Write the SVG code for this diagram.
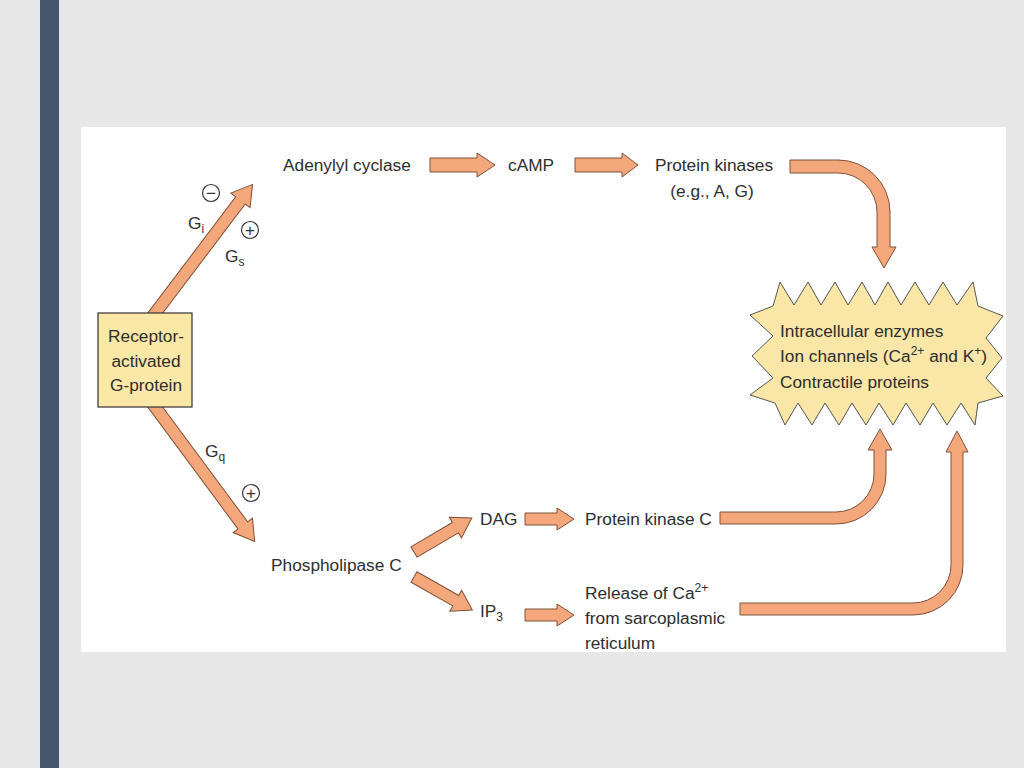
<svg xmlns="http://www.w3.org/2000/svg" width="1024" height="768" viewBox="0 0 1024 768">
<style>
.t{font-family:"Liberation Sans",Arial,sans-serif;font-size:17.3px;fill:#2e2e2e}
.sub{font-size:12px}
.arr{fill:#f5a77c;stroke:#7f5038;stroke-width:1}
.sign{fill:none;stroke:#333;stroke-width:1.2}
.signt{font-family:"Liberation Sans",Arial,sans-serif;font-size:17px;fill:#333;text-anchor:middle}
</style>
<rect width="1024" height="768" fill="#e7e7e7"/>
<rect x="40" y="0" width="19" height="768" fill="#47586e"/>
<rect x="81" y="127" width="925" height="525" fill="#ffffff"/>

<g id="connectors">
  <path class="arr" transform="translate(150,320) rotate(-52.9)" d="M0,-6 H150 V-12 L170,0 L150,12 V6 H0 Z"/>
  <path class="arr" transform="translate(150,400) rotate(53.5)" d="M0,-6 H156 V-12 L176,0 L156,12 V6 H0 Z"/>
  <path class="arr" d="M430,158 H477 V153 L495,165 L477,177 V172 H430 Z"/>
  <path class="arr" d="M575,158 H622 V153 L638,165 L622,177 V172 H575 Z"/>
  <path class="arr" d="M790,160 H838 A52,52 0 0 1 890,212 V247 H896 L884,268 L872,247 H877 V212 A39,39 0 0 0 838,173 H790 Z"/>
  <path class="arr" transform="translate(414,552) rotate(-30.4)" d="M0,-6 H48 V-12 L67,0 L48,12 V6 H0 Z"/>
  <path class="arr" transform="translate(414,577) rotate(29.6)" d="M0,-6 H48 V-12 L67,0 L48,12 V6 H0 Z"/>
  <path class="arr" d="M525,513 H557 V508 L574,519 L557,530 V525 H525 Z"/>
  <path class="arr" d="M525,609 H557 V604 L574,615 L557,626 V621 H525 Z"/>
  <path class="arr" d="M720,512 H836 A38,38 0 0 0 874,474 V450 H868 L880,429 L892,450 H886 V474 A50,50 0 0 1 836,524 H720 Z"/>
  <path class="arr" d="M740,603 H913 A38,38 0 0 0 951,565 V452 H946 L957,431 L968,452 H963 V565 A50,50 0 0 1 913,615 H740 Z"/>
</g>

<g id="receptor">
  <rect x="98" y="313" width="94" height="94" fill="#fbe7a6" stroke="#333" stroke-width="1.2"/>
  <text class="t" x="146" y="342" text-anchor="middle">Receptor-</text>
  <text class="t" x="146" y="367" text-anchor="middle">activated</text>
  <text class="t" x="146" y="391" text-anchor="middle">G-protein</text>
</g>

<g id="labels-g">
  <text class="t" x="188" y="229">G<tspan class="sub" dy="4">i</tspan></text>
  <text class="t" x="225" y="262">G<tspan class="sub" dy="4">s</tspan></text>
  <text class="t" x="205" y="457">G<tspan class="sub" dy="4">q</tspan></text>
  <circle class="sign" cx="211" cy="193" r="8.5"/>
  <text class="signt" x="211" y="199">−</text>
  <circle class="sign" cx="250" cy="230" r="8.5"/>
  <text class="signt" x="250" y="236">+</text>
  <circle class="sign" cx="251" cy="493" r="8.5"/>
  <text class="signt" x="251" y="499">+</text>
</g>

<g id="adenylyl"><text class="t" x="283" y="171">Adenylyl cyclase</text></g>
<g id="camp"><text class="t" x="508" y="171">cAMP</text></g>
<g id="pk">
  <text class="t" x="714" y="171" text-anchor="middle">Protein kinases</text>
  <text class="t" x="712" y="197" text-anchor="middle">(e.g., A, G)</text>
</g>

<g id="targets">
  <polygon fill="#fae6a6" stroke="#555" stroke-width="1"
   points="773,306 780,282 794,305 808,282 821,305 835,282 848,305 862,282 875,305 888,282 901,305 915,282 929,305 943,282 957,305 973,282 978,306 1003,316 986,338 1002,358 986,378 1003,396 978,403 975,425 961,403 947,425 933,403 920,425 906,403 893,425 879,403 866,425 852,403 839,425 825,403 812,425 798,403 785,425 775,403 750,395 773,378 752,356 773,336 750,315"/>
  <text class="t" x="780" y="337">Intracellular enzymes</text>
  <text class="t" x="780" y="362">Ion channels (Ca<tspan class="sub" dy="-7">2+</tspan><tspan dy="7"> and K</tspan><tspan class="sub" dy="-7">+</tspan><tspan dy="7">)</tspan></text>
  <text class="t" x="780" y="388">Contractile proteins</text>
</g>

<g id="plc"><text class="t" x="271" y="571">Phospholipase C</text></g>
<g id="dag"><text class="t" x="480" y="525">DAG</text></g>
<g id="pkc"><text class="t" x="585" y="525">Protein kinase C</text></g>
<g id="ip3"><text class="t" x="480" y="617">IP<tspan class="sub" dy="4">3</tspan></text></g>
<g id="release">
  <text class="t" x="585" y="599">Release of Ca<tspan class="sub" dy="-7">2+</tspan></text>
  <text class="t" x="585" y="624">from sarcoplasmic</text>
  <text class="t" x="585" y="649">reticulum</text>
</g>
</svg>
